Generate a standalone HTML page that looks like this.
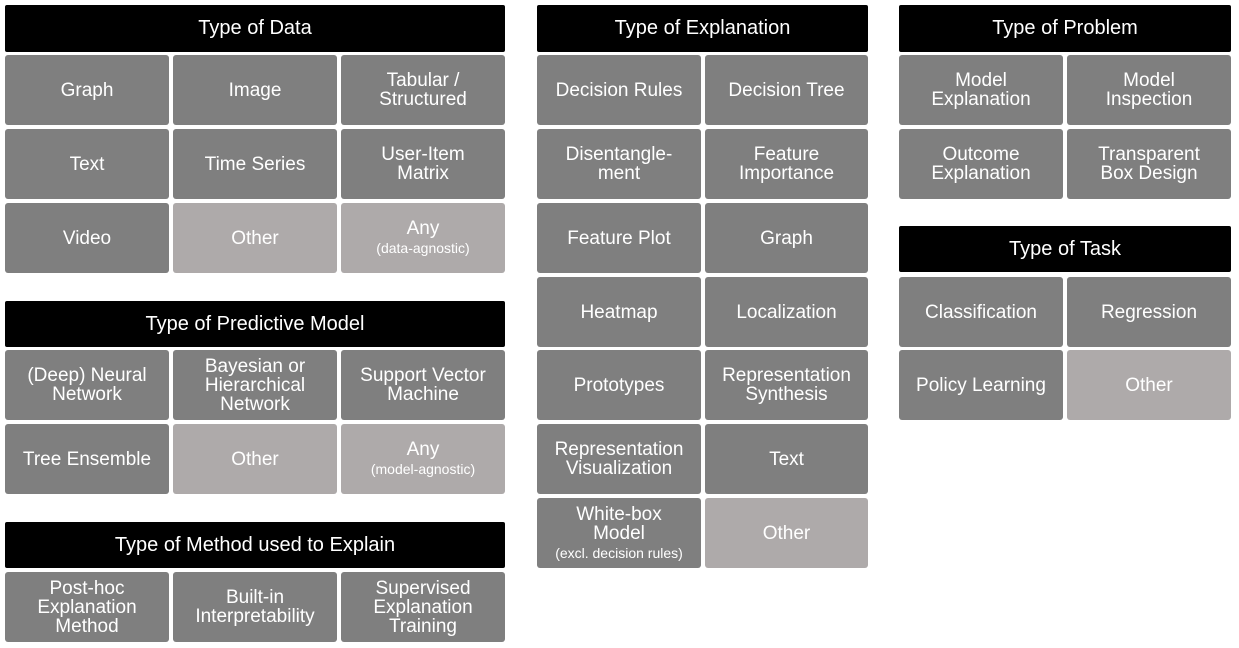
<!DOCTYPE html>
<html><head><style>
body{margin:0;width:1239px;height:648px;background:#fff;position:relative;font-family:"Liberation Sans",sans-serif;overflow:hidden}
.h,.c{position:absolute;display:flex;align-items:center;justify-content:center;text-align:center;color:#fff;box-sizing:border-box}
.h{background:#000;font-size:20px;border-radius:2px}
.c{background:#7f7f7f;font-size:19px;line-height:19px;border-radius:3px}
.l{background:#aeaaaa}
small{font-size:14px;line-height:16px}
</style></head><body>
<div class="h" style="left:5px;top:5px;width:500px;height:47px">Type of Data</div>
<div class="c" style="left:5px;top:55px;width:164px;height:70px">Graph</div>
<div class="c" style="left:173px;top:55px;width:164px;height:70px">Image</div>
<div class="c" style="left:341px;top:55px;width:164px;height:70px"><span>Tabular /<br>Structured</span></div>
<div class="c" style="left:5px;top:129px;width:164px;height:70px">Text</div>
<div class="c" style="left:173px;top:129px;width:164px;height:70px">Time Series</div>
<div class="c" style="left:341px;top:129px;width:164px;height:70px"><span>User-Item<br>Matrix</span></div>
<div class="c" style="left:5px;top:203px;width:164px;height:70px">Video</div>
<div class="c l" style="left:173px;top:203px;width:164px;height:70px">Other</div>
<div class="c l" style="left:341px;top:203px;width:164px;height:70px"><span>Any<br><small>(data-agnostic)</small></span></div>

<div class="h" style="left:5px;top:301px;width:500px;height:46px">Type of Predictive Model</div>
<div class="c" style="left:5px;top:350px;width:164px;height:70px"><span>(Deep) Neural<br>Network</span></div>
<div class="c" style="left:173px;top:350px;width:164px;height:70px"><span>Bayesian or<br>Hierarchical<br>Network</span></div>
<div class="c" style="left:341px;top:350px;width:164px;height:70px"><span>Support Vector<br>Machine</span></div>
<div class="c" style="left:5px;top:424px;width:164px;height:70px">Tree Ensemble</div>
<div class="c l" style="left:173px;top:424px;width:164px;height:70px">Other</div>
<div class="c l" style="left:341px;top:424px;width:164px;height:70px"><span>Any<br><small>(model-agnostic)</small></span></div>

<div class="h" style="left:5px;top:522px;width:500px;height:46px">Type of Method used to Explain</div>
<div class="c" style="left:5px;top:572px;width:164px;height:70px"><span>Post-hoc<br>Explanation<br>Method</span></div>
<div class="c" style="left:173px;top:572px;width:164px;height:70px"><span>Built-in<br>Interpretability</span></div>
<div class="c" style="left:341px;top:572px;width:164px;height:70px"><span>Supervised<br>Explanation<br>Training</span></div>

<div class="h" style="left:537px;top:5px;width:331px;height:47px">Type of Explanation</div>
<div class="c" style="left:537px;top:55px;width:164px;height:70px">Decision Rules</div>
<div class="c" style="left:705px;top:55px;width:163px;height:70px">Decision Tree</div>
<div class="c" style="left:537px;top:129px;width:164px;height:70px"><span>Disentangle-<br>ment</span></div>
<div class="c" style="left:705px;top:129px;width:163px;height:70px"><span>Feature<br>Importance</span></div>
<div class="c" style="left:537px;top:203px;width:164px;height:70px">Feature Plot</div>
<div class="c" style="left:705px;top:203px;width:163px;height:70px">Graph</div>
<div class="c" style="left:537px;top:277px;width:164px;height:70px">Heatmap</div>
<div class="c" style="left:705px;top:277px;width:163px;height:70px">Localization</div>
<div class="c" style="left:537px;top:350px;width:164px;height:70px">Prototypes</div>
<div class="c" style="left:705px;top:350px;width:163px;height:70px"><span>Representation<br>Synthesis</span></div>
<div class="c" style="left:537px;top:424px;width:164px;height:70px"><span>Representation<br>Visualization</span></div>
<div class="c" style="left:705px;top:424px;width:163px;height:70px">Text</div>
<div class="c" style="left:537px;top:498px;width:164px;height:70px"><span>White-box<br>Model<br><small>(excl. decision rules)</small></span></div>
<div class="c l" style="left:705px;top:498px;width:163px;height:70px">Other</div>

<div class="h" style="left:899px;top:5px;width:332px;height:47px">Type of Problem</div>
<div class="c" style="left:899px;top:55px;width:164px;height:70px"><span>Model<br>Explanation</span></div>
<div class="c" style="left:1067px;top:55px;width:164px;height:70px"><span>Model<br>Inspection</span></div>
<div class="c" style="left:899px;top:129px;width:164px;height:70px"><span>Outcome<br>Explanation</span></div>
<div class="c" style="left:1067px;top:129px;width:164px;height:70px"><span>Transparent<br>Box Design</span></div>
<div class="h" style="left:899px;top:226px;width:332px;height:46px">Type of Task</div>
<div class="c" style="left:899px;top:277px;width:164px;height:70px">Classification</div>
<div class="c" style="left:1067px;top:277px;width:164px;height:70px">Regression</div>
<div class="c" style="left:899px;top:350px;width:164px;height:70px">Policy Learning</div>
<div class="c l" style="left:1067px;top:350px;width:164px;height:70px">Other</div>
</body></html>
